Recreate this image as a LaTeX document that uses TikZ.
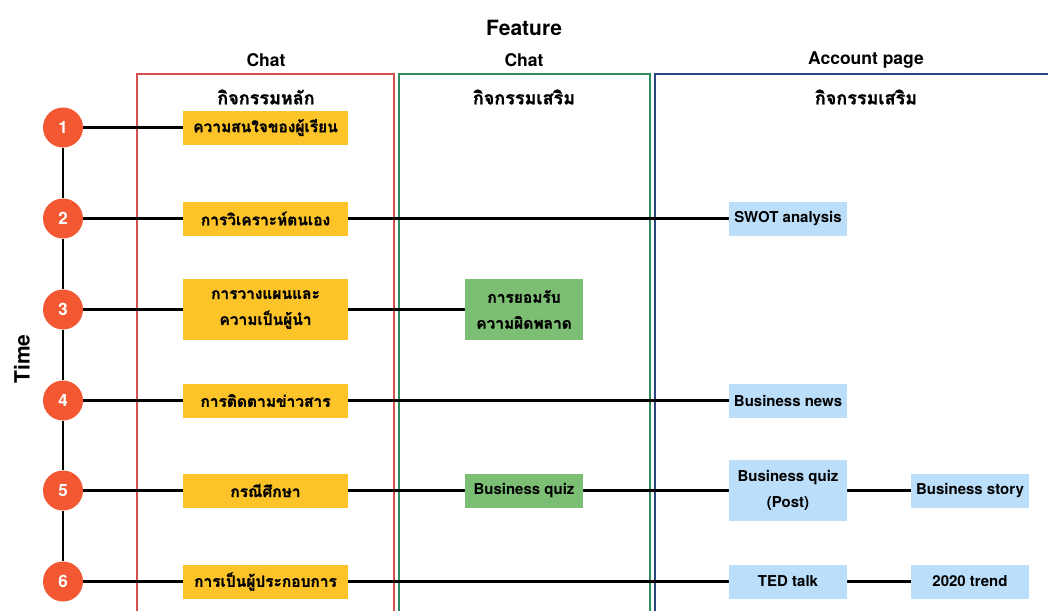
\documentclass[tikz,border=0pt]{standalone}
\usepackage{fontspec}
\setmainfont{TeX Gyre Heros}
\newfontfamily\thaifont[Script=Thai,BoldFeatures={FakeBold=1.2}]{Loma}
\definecolor{circfill}{RGB}{243,88,50}
\definecolor{yfill}{RGB}{252,196,41}
\definecolor{gfill}{RGB}{124,190,116}
\definecolor{bfill}{RGB}{187,222,250}
\definecolor{rframe}{RGB}{214,79,76}
\definecolor{gframe}{RGB}{46,140,96}
\definecolor{bframe}{RGB}{44,70,130}
\tikzset{
  stepnum/.style={circle,fill=circfill,minimum size=40pt,inner sep=0pt,text=white,font=\fontsize{17}{20}\selectfont\bfseries},
  ybox/.style={fill=yfill,minimum width=165pt,minimum height=34pt,inner sep=0pt,align=center,font=\thaifont\bfseries\fontsize{15.5}{26}\selectfont},
  gbox/.style={fill=gfill,minimum width=118pt,minimum height=34pt,inner sep=0pt,align=center,font=\fontsize{15}{26}\selectfont\bfseries},
  bbox/.style={fill=bfill,minimum width=118pt,minimum height=34pt,inner sep=0pt,align=center,font=\fontsize{15}{26}\selectfont\bfseries},
  conn/.style={draw=black,line width=2.2pt},
  frame/.style={line width=2pt},
  head/.style={font=\fontsize{17.5}{20}\selectfont\bfseries},
  thead/.style={font=\thaifont\bfseries\fontsize{18}{20}\selectfont},
}
\begin{document}
\begin{tikzpicture}[x=1pt,y=-1pt]
\useasboundingbox (0,0) rectangle (1048,610);
% frames
\draw[frame,rframe] (137,620) -- (137,74) -- (394,74) -- (394,620);
\draw[frame,gframe] (399,620) -- (399,74) -- (650,74) -- (650,620);
\draw[frame,bframe] (655,620) -- (655,74) -- (1060,74);
% headers
\node[font=\fontsize{21}{24}\selectfont\bfseries] (feat) at (524,28) {Feature};
\node[head] (h1) at (266,60) {Chat};
\node[head] (h2) at (524,60) {Chat};
\node[head] (h3) at (866,60) {Account page};
\node[thead] (s1) at (266,97) {กิจกรรมหลัก};
\node[thead] (s2) at (524,97) {กิจกรรมเสริม};
\node[thead] (s3) at (866,97) {กิจกรรมเสริม};
\node[rotate=90,font=\fontsize{21}{24}\selectfont\bfseries] (time) at (22,359) {Time};
% circles
\node[stepnum] (c1) at (63,127.5) {1};
\node[stepnum] (c2) at (63,218.5) {2};
\node[stepnum] (c3) at (63,309.5) {3};
\node[stepnum] (c4) at (63,400.5) {4};
\node[stepnum] (c5) at (63,490.5) {5};
\node[stepnum] (c6) at (63,581.5) {6};
% yellow
\node[ybox] (y1) at (265.5,127.5) {ความสนใจของผู้เรียน};
\node[ybox] (y2) at (265.5,218.5) {การวิเคราะห์ตนเอง};
\node[ybox,minimum height=61pt] (y3) at (265.5,309.5) {การวางแผนและ\\ความเป็นผู้นำ};
\node[ybox] (y4) at (265.5,400.5) {การติดตามข่าวสาร};
\node[ybox] (y5) at (265.5,490.5) {กรณีศึกษา};
\node[ybox] (y6) at (265.5,581.5) {การเป็นผู้ประกอบการ};
% green
\node[gbox,minimum height=61pt,font=\thaifont\bfseries\fontsize{15.5}{26}\selectfont] (g3) at (524,309.5) {การยอมรับ\\ความผิดพลาด};
\node[gbox] (g5) at (524,490.5) {Business quiz};
% blue
\node[bbox] (b2) at (788,218.5) {SWOT analysis};
\node[bbox] (b4) at (788,400.5) {Business news};
\node[bbox,minimum height=61pt] (b5) at (788,490.5) {Business quiz\\(Post)};
\node[bbox] (b6) at (788,581.5) {TED talk};
\node[bbox] (r5) at (970,490.5) {Business story};
\node[bbox] (r6) at (970,581.5) {2020 trend};
% connectors
\draw[conn] (c1) -- (c2) -- (c3) -- (c4) -- (c5) -- (c6);
\draw[conn] (c1) -- (y1);
\draw[conn] (c2) -- (y2);
\draw[conn] (y2) -- (b2);
\draw[conn] (c3) -- (y3);
\draw[conn] (y3) -- (g3);
\draw[conn] (c4) -- (y4);
\draw[conn] (y4) -- (b4);
\draw[conn] (c5) -- (y5);
\draw[conn] (y5) -- (g5);
\draw[conn] (g5) -- (b5);
\draw[conn] (b5) -- (r5);
\draw[conn] (c6) -- (y6);
\draw[conn] (y6) -- (b6);
\draw[conn] (b6) -- (r6);
\end{tikzpicture}
\end{document}
